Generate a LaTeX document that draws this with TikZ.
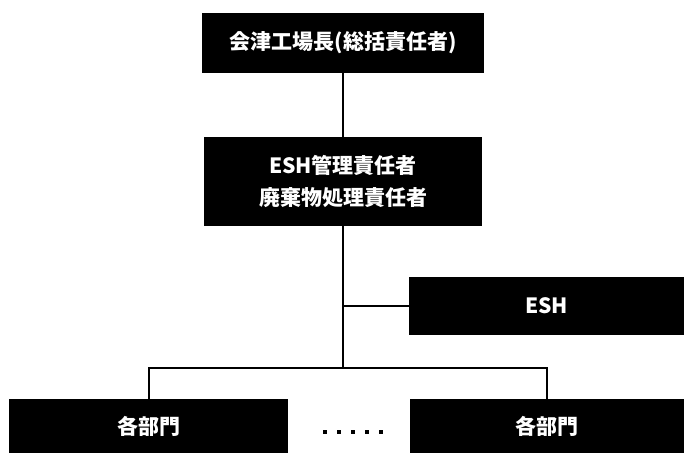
\documentclass[tikz,border=0pt]{standalone}
\usepackage{fontspec}
\setmainfont{Noto Sans CJK JP}
\tikzset{
  orgbox/.style={fill=black, text=white, align=center, inner sep=0pt,
    font=\bfseries\fontsize{10.5}{16}\selectfont},
  orgline/.style={black, line width=1pt}
}
\begin{document}
\begin{tikzpicture}[x=0.5pt, y=-0.5pt]
                \useasboundingbox (0,0) rectangle (684,453);
                % boxes
                \node[orgbox, minimum width=141pt, minimum height=30pt] (chief) at (343,43) {会津工場長(総括責任者)};
                \node[orgbox, minimum width=139pt, minimum height=44.5pt] (mgr) at (343,181.5) {ESH管理責任者\\廃棄物処理責任者};
                \node[orgbox, minimum width=137.5pt, minimum height=29pt] (esh) at (546.5,306) {ESH};
                \node[orgbox, minimum width=139.5pt, minimum height=27pt] (deptA) at (148.5,426) {各部門};
                \node[orgbox, minimum width=137pt, minimum height=27pt] (deptB) at (547,426.5) {各部門};
                \coordinate (split) at (343,368);
                % connectors
                \draw[orgline] (chief) -- (mgr);
                \draw[orgline] (mgr.south) -- (split);
                \draw[orgline] (esh.west) -- (esh.west -| split);
                \draw[orgline] (deptA.north) |- (split) -| (deptB.north);
                % dots
                \foreach \x in {0,...,4} {
                        \fill[black] (323+\x*14,430) rectangle +(3.5,4);
                    }
        \end{tikzpicture}
\end{document}
